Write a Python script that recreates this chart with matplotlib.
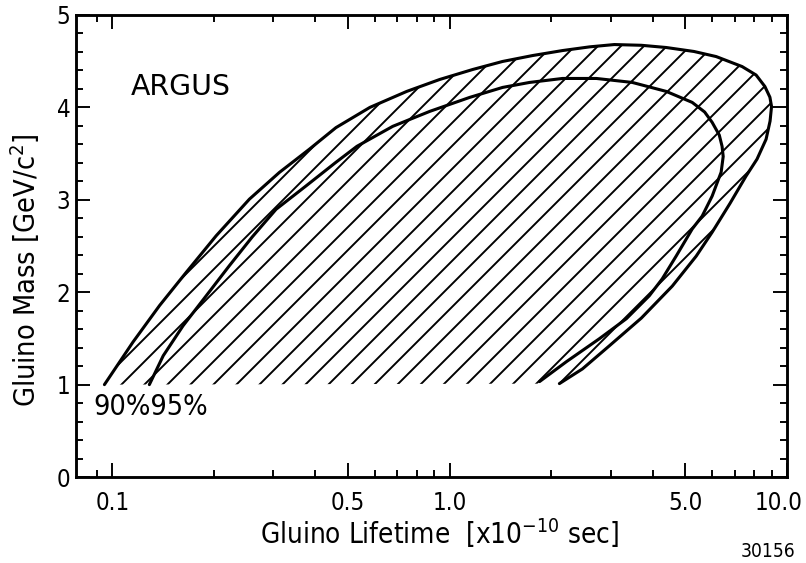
import numpy as np
import matplotlib
matplotlib.use('Agg')
import matplotlib.pyplot as plt
import matplotlib.transforms as mtransforms
from matplotlib.ticker import FixedLocator, NullFormatter

# contour 90% CL (outer) - gluino lifetime [1e-10 s] vs mass [GeV/c^2]
outer_tau = [0.0947, 0.1151, 0.1380, 0.1656, 0.2031, 0.2548, 0.3126, 0.3835, 0.460,
             0.580, 0.746, 0.934, 1.170, 1.435, 1.761, 2.160, 2.60, 3.077, 3.70,
             4.385, 5.30, 6.166, 7.36, 8.10, 8.60, 8.90, 9.00, 8.91, 8.67, 8.15,
             7.56, 6.78, 6.00, 5.38, 4.57, 3.70, 2.97, 2.475, 2.115]
outer_mass = [1.000, 1.461, 1.856, 2.216, 2.611, 3.007, 3.296, 3.547, 3.781,
              4.000, 4.173, 4.302, 4.410, 4.497, 4.561, 4.615, 4.655, 4.680, 4.672,
              4.648, 4.605, 4.550, 4.442, 4.350, 4.226, 4.110, 4.010, 3.852, 3.655, 3.440,
              3.256, 2.962, 2.649, 2.390, 2.066, 1.720, 1.418, 1.170, 1.011]

# contour 95% CL (inner)
inner_tau = [0.1287, 0.1415, 0.162, 0.1897, 0.2220, 0.260, 0.3056, 0.375, 0.460,
             0.531, 0.678, 0.873, 1.146, 1.435, 1.725, 2.160, 2.722, 3.478, 4.385,
             5.236, 5.70, 6.00, 6.30, 6.42, 6.47, 6.38, 6.00, 5.605, 5.236, 4.695,
             4.266, 3.906, 3.340, 2.779, 2.220, 1.847]
inner_mass = [1.000, 1.313, 1.637, 1.961, 2.285, 2.600, 2.897, 3.150, 3.406,
              3.579, 3.795, 3.957, 4.108, 4.216, 4.270, 4.313, 4.313, 4.270, 4.173,
              4.054, 3.950, 3.838, 3.700, 3.579, 3.469, 3.299, 3.040, 2.824, 2.684, 2.392,
              2.144, 1.961, 1.713, 1.497, 1.249, 1.033]

xmajor = [0.1, 0.5, 1.0, 5.0, 10.0]
xmajor_labels = ['0.1', '0.5', '1.0', '5.0', '10.0']
xminor = [0.09, 0.2, 0.3, 0.4, 0.6, 0.7, 0.8, 0.9, 2, 3, 4, 6, 7, 8, 9]
ymajor = [0, 1, 2, 3, 4, 5]

DPI = 138
plt.rcParams['font.family'] = ['DejaVu Sans']
plt.rcParams['font.stretch'] = 'condensed'
plt.rcParams['hatch.linewidth'] = 1.0
plt.rcParams['hatch.color'] = 'black'
plt.rcParams['mathtext.fontset'] = 'custom'
plt.rcParams['mathtext.rm'] = 'DejaVu Sans'

fig = plt.figure(figsize=(806 / DPI, 563 / DPI), dpi=DPI)
ax = fig.add_axes([0.0943, 0.1527, 0.8821, 0.8207])
ax.set_xscale('log')
ax.set_xlim(0.078, 10.0)
ax.set_ylim(0, 5)

# hatched allowed region (outer contour closed along the 1 GeV line)
ax.fill(outer_tau, outer_mass, fill=False, hatch='//', linewidth=0, edgecolor='black')

ax.plot(outer_tau, outer_mass, color='black', lw=1.6, solid_capstyle='round',
        solid_joinstyle='round')
ax.plot(inner_tau, inner_mass, color='black', lw=1.6, solid_capstyle='round',
        solid_joinstyle='round')

# axes styling
for s in ax.spines.values():
    s.set_linewidth(1.5)
ax.xaxis.set_major_locator(FixedLocator(xmajor))
ax.set_xticklabels(xmajor_labels)
ax.xaxis.set_minor_locator(FixedLocator(xminor))
ax.xaxis.set_minor_formatter(NullFormatter())
ax.set_yticks(ymajor)
ax.yaxis.set_minor_locator(FixedLocator(np.arange(0, 5.01, 0.2)))
ax.tick_params(which='both', direction='in', top=True, right=True, width=1.0)
ax.tick_params(which='major', length=7.5)
ax.tick_params(which='minor', length=3.5)
ax.tick_params(axis='x', which='major', pad=7.5, labelsize=12.5)
ax.tick_params(axis='y', which='major', pad=3, labelsize=12.5)

# last x label sits a bit left of its tick, inside the figure
shift = mtransforms.ScaledTranslation(-8 / DPI, 0, fig.dpi_scale_trans)
lab = ax.get_xticklabels()[-1]
lab.set_transform(lab.get_transform() + shift)

ax.set_xlabel(r'Gluino Lifetime  [x10$^{-10}$ sec]', fontsize=14.5)
ax.xaxis.set_label_coords(0.512, -0.085)
ax.set_ylabel(r'Gluino Mass [GeV/c$^2$]', fontsize=15)
ax.yaxis.set_label_coords(-0.048, 0.448)

ax.text(0.113, 4.22, 'ARGUS', fontsize=14.8, fontstretch='normal', ha='left', va='center')
ax.text(0.0879, 0.763, '90%95%', fontsize=15, ha='left', va='center')
fig.text(0.987, 0.004, '30156', fontsize=10, ha='right', va='bottom')

fig.savefig('out.png', dpi=DPI)
